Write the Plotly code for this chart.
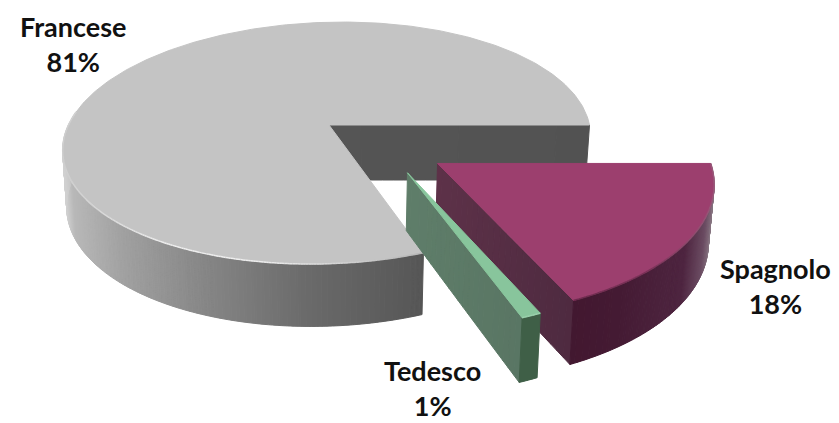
import math
from collections import defaultdict
import plotly.graph_objects as go

# ---- data -------------------------------------------------------------
categories = ["Spagnolo", "Tedesco", "Francese"]
values = [18, 1, 81]
percent_labels = ["18%", "1%", "81%"]

# ---- view / style ------------------------------------------------------
W, H = 839, 423
CX, CY, A, B, K, SHEAR, DEPTH = 329, 125, 260.5, 118.3, 0.149, 0.06, 55
K_DEPTH, X_SHRINK = 0.135, 0.015
OFFSETS = {"Spagnolo": (0.416, 0.31), "Tedesco": (0.307, 0.381), "Francese": (0.0, 0.0)}
STYLE = {
    "Francese": dict(top="#c4c4c4",
                     outer=[(60, "#d8d8d8"), (72, "#b8b8b8"), (123, "#a0a0a0"), (207, "#858585"),
                            (307, "#6a6a6a"), (425, "#565656")],
                     face=[(320, "#555555"), (600, "#525252")],
                     rim=[(60, "#cfcfcf"), (110, "#dcdcdc"), (170, "#f0f0f0"), (260, "#eeeeee"),
                          (340, "#d4d4d4"), (425, "#b4b4b4")]),
    "Spagnolo": dict(top="#9c3f6e",
                     outer=[(565, "#42172f"), (620, "#441a33"), (685, "#4e2540"), (705, "#6b4c62"), (716, "#8f808a")],
                     face=[(430, "#5e3249"), (575, "#4e2a40")],
                     rim=[(565, "#6a2a4c"), (650, "#7a3358"), (716, "#9a5c7c")]),
    "Tedesco": dict(top="#88c59c",
                    outer=[(515, "#3f5f47"), (545, "#3f5f47")],
                    face=[(400, "#5f7e6a"), (530, "#597563")],
                    rim=[(515, "#9ad0ac"), (545, "#9ad0ac")]),
}
LABEL_POS = {"Francese": (73, 44), "Spagnolo": (775, 286), "Tedesco": (432, 388)}


def project(u, v, z=0.0):
    s = 1.0 / (1.0 - K * v)
    x = CX + A * (u - SHEAR * v) * s * (1.0 - X_SHRINK * z)
    y = CY + B * v * s + z * DEPTH * (1.0 + K_DEPTH * v)
    return x, y


def hex2rgb(c):
    return [int(c[i:i + 2], 16) for i in (1, 3, 5)]


def shade(stops, x):
    if x <= stops[0][0]:
        return stops[0][1]
    for (x0, c0), (x1, c1) in zip(stops, stops[1:]):
        if x <= x1:
            t = (x - x0) / (x1 - x0)
            rgb = [round(a + (b - a) * t) for a, b in zip(hex2rgb(c0), hex2rgb(c1))]
            return "#%02x%02x%02x" % tuple(rgb)
    return stops[-1][1]


def add_polys(fig, polys):
    groups = defaultdict(lambda: ([], []))
    for color, pts in polys:
        xs, ys = groups[color]
        xs.extend([p[0] for p in pts] + [pts[0][0], None])
        ys.extend([p[1] for p in pts] + [pts[0][1], None])
    for color, (xs, ys) in groups.items():
        fig.add_trace(go.Scatter(x=xs, y=ys, mode="lines", fill="toself", fillcolor=color,
                                 line=dict(color=color, width=1), hoverinfo="skip", showlegend=False))


def draw_slice(fig, name, a1, a2):
    u0, v0 = OFFSETS[name]
    st = STYLE[name]
    def P(r, ang, z=0.0):
        return project(u0 + r * math.cos(ang), v0 + r * math.sin(ang), z)

    # flat cut face at the end of the slice (faces the viewer)
    n = 24
    faces = []
    for i in range(n):
        p0, p1 = P(i / n, a2), P((i + 1) / n, a2)
        q0, q1 = P(i / n, a2, 1), P((i + 1) / n, a2, 1)
        faces.append((shade(st["face"], (p0[0] + p1[0]) / 2), [p0, p1, q1, q0]))
    add_polys(fig, faces)

    # outer wall, only the front-facing part
    steps = max(4, int((a2 - a1) / math.radians(0.5)))
    walls, rims = [], []
    for i in range(steps):
        t0 = a1 + (a2 - a1) * i / steps
        t1 = a1 + (a2 - a1) * (i + 1) / steps
        if t0 > math.radians(186):
            continue
        p0, p1 = P(1, t0), P(1, t1)
        q0, q1 = P(1, t0, 1), P(1, t1, 1)
        xm = (p0[0] + p1[0]) / 2
        walls.append((shade(st["outer"], xm), [p0, p1, q1, q0]))
        rims.append((shade(st["rim"], xm), p0, p1))
    add_polys(fig, walls)

    # top face
    m = max(3, int((a2 - a1) / math.radians(1.0)))
    top = [P(0, a1)] + [P(1, a1 + (a2 - a1) * i / m) for i in range(m + 1)]
    add_polys(fig, [(st["top"], top)])

    # bright bevel along the top of the outer wall
    groups = defaultdict(lambda: ([], []))
    for color, p0, p1 in rims:
        groups[color][0].extend([p0[0], p1[0], None])
        groups[color][1].extend([p0[1], p1[1], None])
    for color, (xs, ys) in groups.items():
        fig.add_trace(go.Scatter(x=xs, y=ys, mode="lines", line=dict(color=color, width=1.5),
                                 hoverinfo="skip", showlegend=False))


fig = go.Figure()
total = sum(values)
spans, start = {}, 0.0
for cat, val in zip(categories, values):
    end = start + val / total * 2 * math.pi
    spans[cat] = (start, end)
    start = end

for cat in ["Francese", "Spagnolo", "Tedesco"]:
    draw_slice(fig, cat, *spans[cat])

for cat, pct in zip(categories, percent_labels):
    x, y = LABEL_POS[cat]
    fig.add_annotation(x=x, y=y, text=f"{cat}<br>{pct}", showarrow=False, align="center",
                       font=dict(family="Lato", size=27, color="#111111", weight="bold"))

fig.update_layout(
    width=W, height=H, margin=dict(l=0, r=0, t=0, b=0),
    paper_bgcolor="white", plot_bgcolor="white", showlegend=False,
    xaxis=dict(range=[0, W], visible=False, fixedrange=True),
    yaxis=dict(range=[H, 0], visible=False, fixedrange=True),
)
fig.write_html("out.html", config={"displayModeBar": False},
               post_script="document.body.style.margin='0';document.body.style.overflow='hidden';")
